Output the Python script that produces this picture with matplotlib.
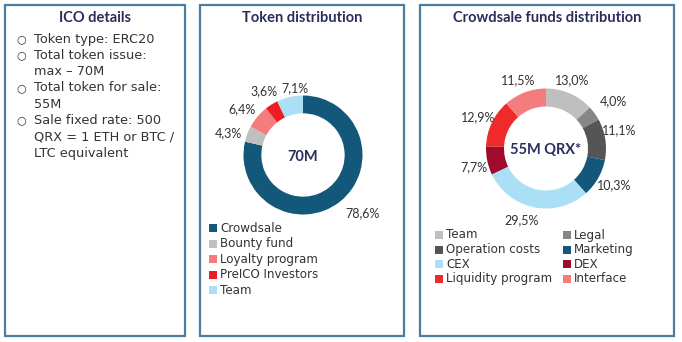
import matplotlib.pyplot as plt
from matplotlib.patches import Rectangle

plt.rcParams['font.family'] = ['Lato', 'DejaVu Sans']

# data
ico_lines = ["Token type: ERC20",
             ["Total token issue:", "max \u2013 70M"],
             ["Total token for sale:", "55M"],
             ["Sale fixed rate: 500", "QRX = 1 ETH or BTC /", "LTC equivalent"]]

token_labels = ["Crowdsale", "Bounty fund", "Loyalty program", "PreICO Investors", "Team"]
token_values = [78.6, 4.3, 6.4, 3.6, 7.1]
token_colors = ["#13587a", "#bfbfbf", "#f47c7c", "#ee1c24", "#abdff6"]

funds_labels = ["Team", "Legal", "Operation costs", "Marketing", "CEX", "DEX",
                "Liquidity program", "Interface"]
funds_values = [13.0, 4.0, 11.1, 10.3, 29.5, 7.7, 12.9, 11.5]
funds_colors = ["#bfbfbf", "#868686", "#555555", "#13587a", "#abdff6", "#9e0b2b",
                "#ee2a2a", "#f47c7c"]

W, H = 682, 342
navy = "#2b2d5c"
txt = "#333333"
border = "#4d7d9c"
body = ['DejaVu Sans']

fig = plt.figure(figsize=(W / 100, H / 100), dpi=100)
bg = fig.add_axes([0, 0, 1, 1])
bg.set_xlim(0, W)
bg.set_ylim(H, 0)
bg.axis('off')

# panel boxes
for x0, x1 in [(5, 185), (200, 404), (420, 674)]:
    bg.add_patch(Rectangle((x0, 5), x1 - x0, 331, fill=False, edgecolor=border, lw=1.6))

# titles
bg.text(95, 18, "ICO details", ha='center', va='center', fontsize=10.5, fontweight='bold', color=navy)
bg.text(302, 18, "Token distribution", ha='center', va='center', fontsize=10.5, fontweight='bold', color=navy)
bg.text(547, 18, "Crowdsale funds distribution", ha='center', va='center', fontsize=10.5, fontweight='bold', color=navy)

# ICO bullet list
y = 39
for item in ico_lines:
    if isinstance(item, str):
        item = [item]
    bg.text(21, y, "\u25cb", ha='center', va='center', fontsize=8, color=txt, family='DejaVu Sans')
    for line in item:
        bg.text(34, y, line, ha='left', va='center', fontsize=9.3, color=txt, family=body)
        y += 16.3


def donut(cx, cy, r, values, colors, center_text, labels_pos, label_vals):
    ax = fig.add_axes([(cx - r) / W, (H - cy - r) / H, 2 * r / W, 2 * r / H])
    ax.pie(values, colors=colors, startangle=90, counterclock=False,
           wedgeprops=dict(width=0.3, linewidth=0))
    ax.set_xlim(-1, 1)
    ax.set_ylim(-1, 1)
    ax.set_aspect('auto')
    ax.axis('off')
    bg.text(cx, cy + 2, center_text, ha='center', va='center', fontsize=10.5,
            fontweight='bold', color=navy)
    for (lx, ly), v in zip(labels_pos, label_vals):
        bg.text(lx, ly, f"{v:.1f}%".replace('.', ','), ha='center', va='center',
                fontsize=9, color=txt)


donut(303, 155, 59.5, token_values, token_colors, "70M",
      [(363, 213), (228, 133), (242, 109), (264, 91), (295, 88)], token_values)
donut(546, 148.5, 60, funds_values, funds_colors, "55M QRX*",
      [(572, 80), (613, 101), (619, 130), (614, 185), (522, 220), (474, 167),
       (478, 117), (518, 80)], funds_values)

# legends
for i, (lab, c) in enumerate(zip(token_labels, token_colors)):
    yy = 228 + i * 15.5
    bg.add_patch(Rectangle((209, yy - 4), 8, 8, color=c, lw=0))
    bg.text(220, yy, lab, ha='left', va='center', fontsize=8.6, color=txt, family=body)

for i, (lab, c) in enumerate(zip(funds_labels, funds_colors)):
    col, row = i % 2, i // 2
    xx = 435 if col == 0 else 563
    yy = 235 + row * 14.5
    bg.add_patch(Rectangle((xx, yy - 4), 8, 8, color=c, lw=0))
    bg.text(xx + 11, yy, lab, ha='left', va='center', fontsize=8.6, color=txt, family=body)

fig.savefig("out.png", dpi=100)
